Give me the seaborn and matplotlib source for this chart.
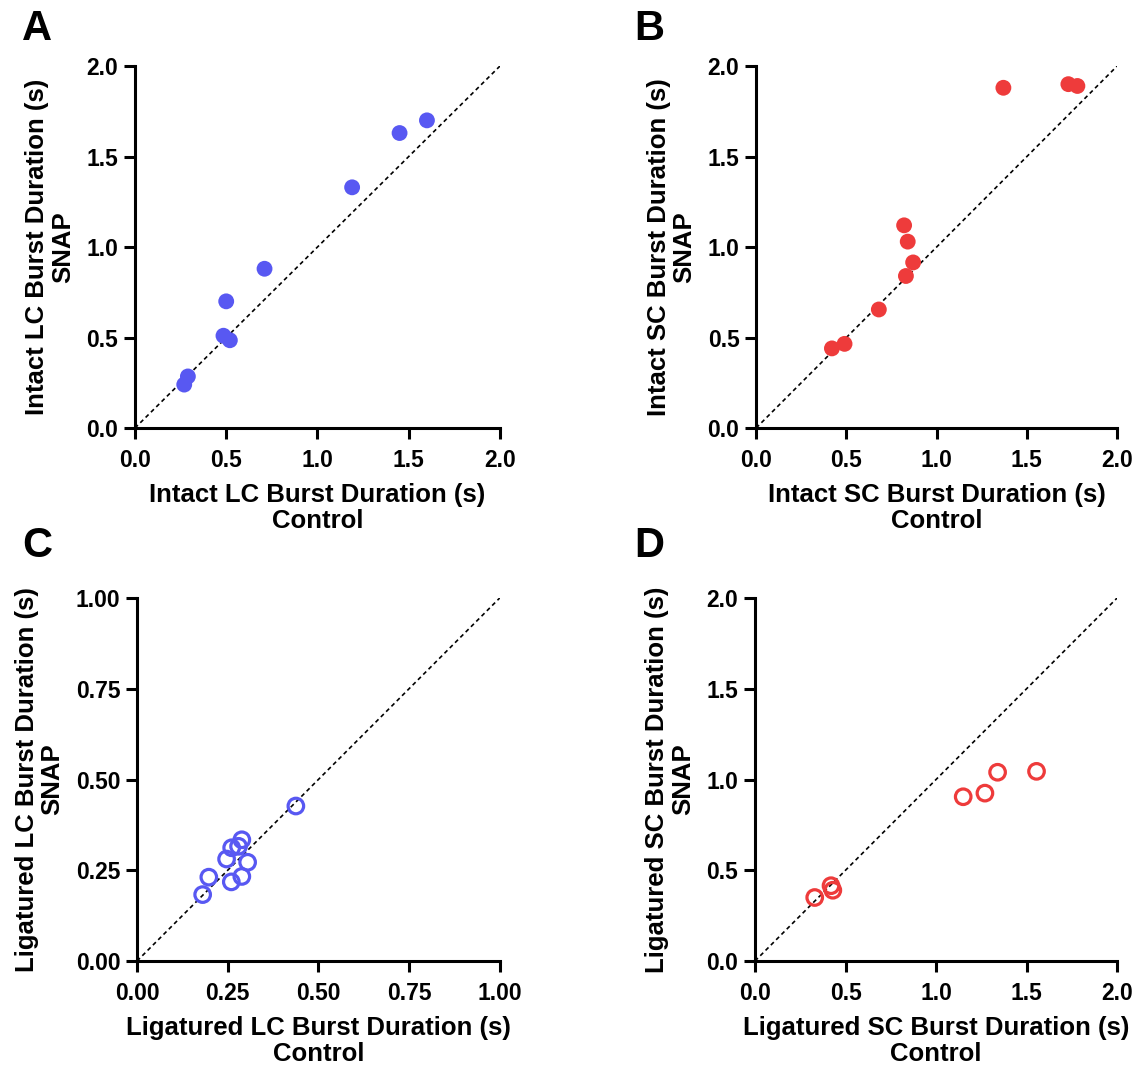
import numpy as np
import pandas as pd
import matplotlib
matplotlib.use('Agg')
import matplotlib.pyplot as plt
import seaborn as sns

# values (Control vs SNAP burst durations, s)
a_control = [1.60, 1.45, 1.19, 0.71, 0.50, 0.485, 0.52, 0.29, 0.27]
a_snap = [1.70, 1.63, 1.33, 0.88, 0.70, 0.51, 0.485, 0.285, 0.24]

b_control = [1.37, 1.73, 1.78, 0.82, 0.84, 0.87, 0.83, 0.68, 0.49, 0.42]
b_snap = [1.88, 1.90, 1.89, 1.12, 1.03, 0.915, 0.84, 0.655, 0.465, 0.44]

c_control = [0.438, 0.289, 0.280, 0.261, 0.247, 0.305, 0.198, 0.289, 0.260, 0.181]
c_snap = [0.427, 0.334, 0.316, 0.312, 0.281, 0.272, 0.231, 0.233, 0.218, 0.183]

d_control = [0.33, 0.42, 0.43, 1.15, 1.27, 1.34, 1.555]
d_snap = [0.35, 0.415, 0.39, 0.905, 0.925, 1.04, 1.045]

blue = '#5858F2'
red = '#EE3B3B'

sns.set_style('white')
plt.rcParams['font.family'] = ['Liberation Sans', 'DejaVu Sans']
plt.rcParams['font.weight'] = 'bold'
for k in ['text.color', 'axes.labelcolor', 'xtick.color', 'ytick.color']:
    plt.rcParams[k] = 'black'

fig = plt.figure(figsize=(11.37, 10.69), dpi=100)

panels = [
    ('A', [0.1187, 0.5996, 0.321, 0.3386], a_control, a_snap, blue, True, 2.0, 0.5, '{:.1f}', 'Intact LC'),
    ('B', [0.665, 0.5996, 0.3175, 0.3386], b_control, b_snap, red, True, 2.0, 0.5, '{:.1f}', 'Intact SC'),
    ('C', [0.1205, 0.101, 0.319, 0.3396], c_control, c_snap, blue, False, 1.0, 0.25, '{:.2f}', 'Ligatured LC'),
    ('D', [0.664, 0.101, 0.3185, 0.3396], d_control, d_snap, red, False, 2.0, 0.5, '{:.1f}', 'Ligatured SC'),
]

for letter, rect, xs, ys, color, filled, lim, step, fmt, name in panels:
    ax = fig.add_axes(rect)
    df = pd.DataFrame({'Control': xs, 'SNAP': ys})
    ax.plot([0, lim], [0, lim], color='black', lw=1.2, ls=(0, (2.5, 2)), zorder=1)
    if filled:
        sns.scatterplot(data=df, x='Control', y='SNAP', ax=ax, color=color, s=130,
                        edgecolor='none', zorder=3, clip_on=False)
    else:
        sns.scatterplot(data=df, x='Control', y='SNAP', ax=ax, s=125,
                        facecolors='none', edgecolor=color, linewidth=2.3, zorder=3, clip_on=False)
    ticks = np.arange(0, lim + step / 2, step)
    ax.set_xlim(0, lim)
    ax.set_ylim(0, lim)
    ax.set_xticks(ticks)
    ax.set_yticks(ticks)
    ax.set_xticklabels([fmt.format(t) for t in ticks], fontsize=16.5, fontweight='bold')
    ax.set_yticklabels([fmt.format(t) for t in ticks], fontsize=16.5, fontweight='bold')
    ax.tick_params(direction='out', length=8, width=2.2, color='black', pad=4,
                   bottom=True, left=True)
    ax.tick_params(axis='x', pad=7)
    sns.despine(ax=ax)
    for sp in ['left', 'bottom']:
        ax.spines[sp].set_linewidth(2.2)
        ax.spines[sp].set_color('black')
    ax.set_xlabel(f'{name} Burst Duration (s)\nControl', fontsize=18.5, fontweight='bold',
                  labelpad=8, linespacing=1.1)
    ax.set_ylabel(f'{name} Burst Duration (s)\nSNAP', fontsize=18.5, fontweight='bold',
                  labelpad=8, linespacing=1.1)
    ax.grid(False)
    lx = 0.0195 if letter in 'AC' else 0.558
    ly = 0.973 if letter in 'AB' else 0.489
    fig.text(lx, ly, letter, fontsize=30, fontweight='bold', va='center', ha='left')

fig.savefig('out.png', dpi=100)
